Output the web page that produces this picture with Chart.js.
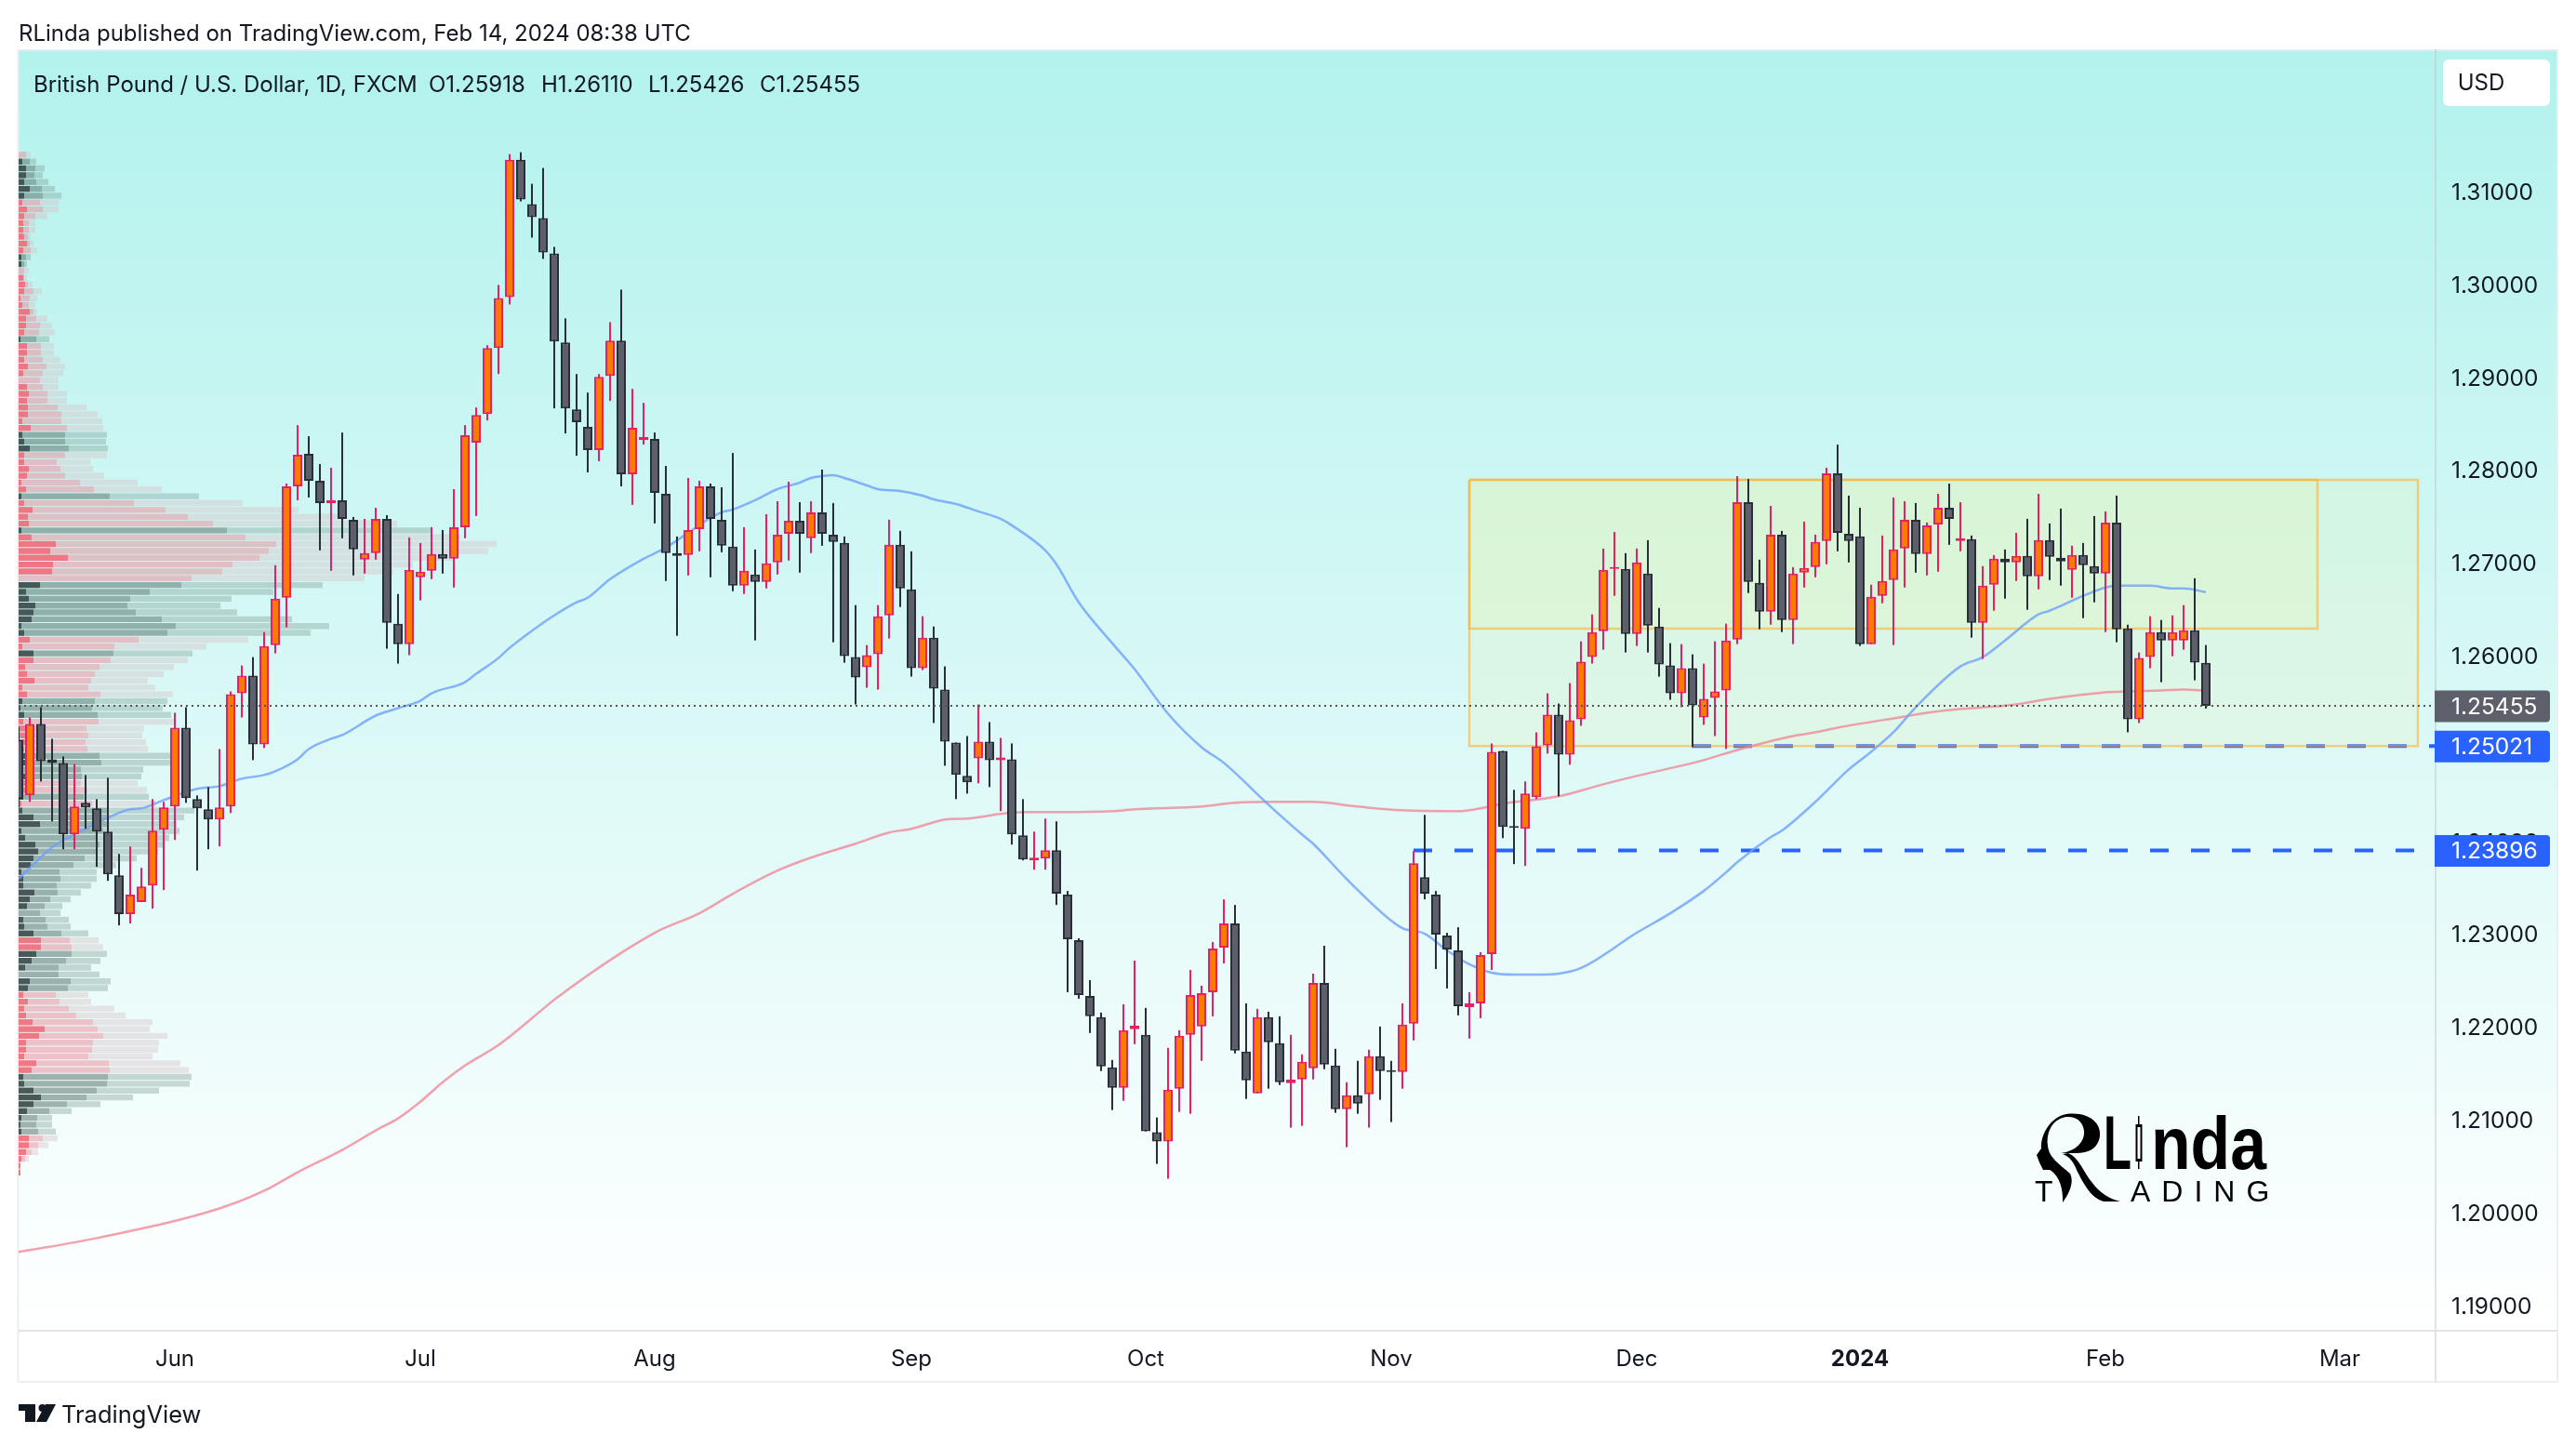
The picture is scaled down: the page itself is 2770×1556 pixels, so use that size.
<!DOCTYPE html>
<html><head><meta charset="utf-8">
<style>html,body{margin:0;padding:0;background:#fff}canvas{display:block}</style>
<script src="https://cdn.jsdelivr.net/npm/chart.js@4/dist/chart.umd.min.js"></script>
</head><body><div style="width:2770px;height:1556px"><canvas id="c" width="2770" height="1556"></canvas></div>
<script>
const open=[1.2509,1.2449,1.2526,1.2488,1.2484,1.2407,1.2441,1.2435,1.2410,1.2363,1.2321,1.2334,1.2352,1.2412,1.2437,1.2522,1.2445,1.2434,1.2423,1.2437,
1.2559,1.2578,1.2504,1.2611,1.2662,1.2782,1.2817,1.2788,1.2764,1.2767,1.2746,1.2703,1.2710,1.2747,1.2634,1.2612,1.2684,1.2691,1.2709,1.2704,
1.2738,1.2829,1.2860,1.2931,1.2986,1.3134,1.3086,1.3071,1.3033,1.2937,1.2865,1.2846,1.2821,1.2901,1.2939,1.2795,1.2832,1.2833,1.2774,1.2710,
1.2708,1.2736,1.2782,1.2746,1.2717,1.2675,1.2687,1.2679,1.2700,1.2731,1.2745,1.2726,1.2754,1.2730,1.2721,1.2598,1.2587,1.2601,1.2643,1.2719,
1.2671,1.2586,1.2619,1.2563,1.2506,1.2470,1.2489,1.2507,1.2487,1.2488,1.2406,1.2379,1.2381,1.2390,1.2342,1.2293,1.2233,1.2210,1.2156,1.2134,
1.2197,1.2191,1.2086,1.2076,1.2133,1.2191,1.2200,1.2237,1.2285,1.2311,1.2173,1.2128,1.2210,1.2182,1.2139,1.2143,1.2155,1.2247,1.2158,1.2111,
1.2126,1.2127,1.2168,1.2153,1.2151,1.2203,1.2361,1.2342,1.2298,1.2282,1.2221,1.2225,1.2278,1.2497,1.2416,1.2413,1.2447,1.2503,1.2536,1.2493,
1.2531,1.2598,1.2626,1.2693,1.2693,1.2623,1.2688,1.2631,1.2589,1.2559,1.2586,1.2533,1.2554,1.2562,1.2617,1.2765,1.2678,1.2647,1.2730,1.2638,
1.2689,1.2695,1.2723,1.2796,1.2731,1.2728,1.2612,1.2664,1.2681,1.2715,1.2746,1.2709,1.2741,1.2759,1.2723,1.2725,1.2635,1.2676,1.2704,1.2700,
1.2707,1.2685,1.2724,1.2705,1.2692,1.2708,1.2696,1.2688,1.2743,1.2629,1.2531,1.2598,1.2625,1.2616,1.2616,1.2627,1.25918];
const close=[1.2445,1.2526,1.2486,1.2484,1.2407,1.2437,1.2436,1.2410,1.2364,1.2321,1.2342,1.2351,1.2411,1.2436,1.2522,1.2446,1.2435,1.2423,1.2436,1.2558,
1.2578,1.2504,1.2610,1.2661,1.2782,1.2816,1.2788,1.2764,1.2767,1.2747,1.2714,1.2710,1.2747,1.2635,1.2612,1.2692,1.2690,1.2709,1.2704,1.2738,
1.2837,1.2859,1.2931,1.2985,1.3134,1.3091,1.3072,1.3034,1.2938,1.2866,1.2851,1.2821,1.2900,1.2939,1.2795,1.2845,1.2835,1.2775,1.2710,1.2707,
1.2735,1.2782,1.2747,1.2718,1.2675,1.2691,1.2679,1.2699,1.2730,1.2745,1.2731,1.2754,1.2731,1.2722,1.2599,1.2576,1.2600,1.2642,1.2719,1.2672,
1.2586,1.2619,1.2564,1.2507,1.2471,1.2463,1.2507,1.2487,1.2490,1.2407,1.2380,1.2382,1.2390,1.2343,1.2294,1.2234,1.2211,1.2157,1.2134,1.2196,
1.2201,1.2087,1.2076,1.2132,1.2190,1.2234,1.2236,1.2284,1.2311,1.2174,1.2142,1.2210,1.2183,1.2140,1.2143,1.2162,1.2247,1.2159,1.2111,1.2126,
1.2117,1.2168,1.2152,1.2151,1.2202,1.2376,1.2343,1.2299,1.2283,1.2222,1.2225,1.2277,1.2496,1.2415,1.2414,1.2451,1.2502,1.2536,1.2493,1.2530,
1.2593,1.2625,1.2692,1.2695,1.2623,1.2700,1.2632,1.2590,1.2559,1.2586,1.2546,1.2553,1.2561,1.2616,1.2765,1.2679,1.2647,1.2730,1.2638,1.2688,
1.2694,1.2722,1.2796,1.2732,1.2723,1.2612,1.2663,1.2680,1.2714,1.2746,1.2709,1.2740,1.2759,1.2747,1.2726,1.2635,1.2675,1.2704,1.2700,1.2707,
1.2685,1.2724,1.2706,1.2701,1.2708,1.2697,1.2688,1.2743,1.2628,1.2531,1.2597,1.2625,1.2616,1.2625,1.2627,1.2592,1.25455];
const high=[1.2523,1.2533,1.2544,1.2510,1.2491,1.2483,1.2471,1.2445,1.2468,1.2386,1.2394,1.2371,1.2445,1.2442,1.2538,1.2544,1.2449,1.2458,1.2499,1.2561,
1.2589,1.2598,1.2625,1.2697,1.2785,1.2848,1.2836,1.2806,1.2802,1.2840,1.2749,1.2747,1.2759,1.2751,1.2666,1.2727,1.2721,1.2738,1.2735,1.2779,
1.2848,1.2867,1.2934,1.2999,1.3140,1.3142,1.3108,1.3125,1.3040,1.2963,1.2903,1.2883,1.2903,1.2959,1.2994,1.2887,1.2872,1.2840,1.2804,1.2728,
1.2791,1.2788,1.2785,1.2781,1.2818,1.2738,1.2714,1.2752,1.2766,1.2787,1.2765,1.2766,1.2800,1.2764,1.2728,1.2654,1.2611,1.2654,1.2746,1.2734,
1.2712,1.2642,1.2631,1.2588,1.2506,1.2513,1.2547,1.2528,1.2511,1.2505,1.2445,1.2410,1.2424,1.2421,1.2346,1.2295,1.2250,1.2215,1.2164,1.2224,
1.2271,1.2220,1.2102,1.2177,1.2196,1.2261,1.2244,1.2291,1.2337,1.2331,1.2225,1.2219,1.2216,1.2211,1.2191,1.2170,1.2257,1.2287,1.2176,1.2140,
1.2163,1.2175,1.2200,1.2163,1.2225,1.2389,1.2428,1.2346,1.2301,1.2307,1.2237,1.2280,1.2505,1.2497,1.2455,1.2464,1.2517,1.2559,1.2548,1.2570,
1.2615,1.2644,1.2715,1.2733,1.2710,1.2715,1.2724,1.2651,1.2613,1.2612,1.2601,1.2591,1.2615,1.2634,1.2793,1.2790,1.2703,1.2761,1.2734,1.2695,
1.2744,1.2730,1.2802,1.2827,1.2772,1.2759,1.2676,1.2729,1.2770,1.2766,1.2764,1.2743,1.2774,1.2785,1.2765,1.2729,1.2696,1.2708,1.2714,1.2732,
1.2747,1.2774,1.2742,1.2758,1.2718,1.2721,1.2750,1.2755,1.2772,1.2633,1.2603,1.2642,1.2638,1.2643,1.2654,1.2683,1.26110];
const low=[1.2436,1.2442,1.2464,1.2421,1.2391,1.2391,1.2413,1.2372,1.2357,1.2309,1.2311,1.2334,1.2327,1.2347,1.2401,1.2441,1.2368,1.2391,1.2394,1.2430,
1.2533,1.2487,1.2500,1.2602,1.2630,1.2767,1.2770,1.2713,1.2691,1.2726,1.2686,1.2688,1.2703,1.2607,1.2591,1.2600,1.2659,1.2682,1.2688,1.2673,
1.2726,1.2750,1.2853,1.2903,1.2978,1.3089,1.3050,1.3027,1.2866,1.2839,1.2815,1.2797,1.2809,1.2874,1.2782,1.2762,1.2827,1.2742,1.2680,1.2621,
1.2686,1.2712,1.2684,1.2711,1.2669,1.2666,1.2616,1.2672,1.2687,1.2702,1.2689,1.2710,1.2718,1.2614,1.2592,1.2547,1.2565,1.2563,1.2618,1.2652,
1.2577,1.2584,1.2527,1.2481,1.2445,1.2451,1.2462,1.2458,1.2432,1.2396,1.2379,1.2369,1.2369,1.2331,1.2237,1.2230,1.2193,1.2152,1.2110,1.2120,
1.2181,1.2087,1.2052,1.2036,1.2108,1.2106,1.2163,1.2211,1.2268,1.2171,1.2122,1.2128,1.2133,1.2137,1.2091,1.2093,1.2143,1.2154,1.2107,1.2070,
1.2106,1.2091,1.2121,1.2097,1.2133,1.2185,1.2337,1.2262,1.2241,1.2212,1.2187,1.2209,1.2261,1.2403,1.2375,1.2373,1.2445,1.2494,1.2448,1.2482,
1.2524,1.2591,1.2606,1.2664,1.2603,1.2610,1.2603,1.2577,1.2552,1.2544,1.2501,1.2525,1.2513,1.2499,1.2612,1.2667,1.2628,1.2633,1.2625,1.2612,
1.2673,1.2684,1.2698,1.2712,1.2700,1.2610,1.2612,1.2656,1.2611,1.2673,1.2689,1.2686,1.2690,1.2719,1.2712,1.2619,1.2596,1.2648,1.2661,1.2680,
1.2649,1.2671,1.2681,1.2675,1.2662,1.2640,1.2657,1.2625,1.2614,1.2517,1.2527,1.2586,1.2571,1.2599,1.2606,1.2573,1.25426];

const tickIndex=[14,36,57,80,101,123,145,165,187,208];
const tickLabels=['Jun','Jul','Aug','Sep','Oct','Nov','Dec','2024','Feb','Mar'];
const priceTicks=[1.19,1.20,1.21,1.22,1.23,1.24,1.25,1.26,1.27,1.28,1.29,1.30,1.31];

const blueIdx=[0,3,5,6,8,10,11,13,16,18,20,22,23,25,26,28,29,32,34,36,37,40,41,43,44,47,48,50,51,53,56,58,60,62,63,64,66,68,70,71,72,73,74,76,77,79,81,82,84,86,88,89,92,93,95,98,100,103,106,108,112,115,116,119,123,124,126,128,130,132,134,136,138,140,145,148,151,153,154,157,158,161,164,166,168,170,174,176,178,181,182,185,187,188,191,193,194,196];
const blueVal=[1.2359,1.2393,1.2407,1.2413,1.2425,1.2434,1.2435,1.2444,1.2456,1.2459,1.2467,1.2471,1.2475,1.2488,1.2499,1.2510,1.2514,1.2535,1.2543,1.2551,1.2559,1.2571,1.2580,1.2597,1.2608,1.2635,1.2643,1.2657,1.2662,1.2682,1.2704,1.2716,1.2732,1.2748,1.2754,1.2757,1.2767,1.2779,1.2786,1.2791,1.2793,1.2794,1.2791,1.2783,1.2779,1.2777,1.2772,1.2768,1.2763,1.2755,1.2747,1.2740,1.2713,1.2698,1.2657,1.2613,1.2585,1.2537,1.2501,1.2484,1.2439,1.2407,1.2397,1.2359,1.2314,1.2306,1.2300,1.2282,1.2267,1.2258,1.2256,1.2256,1.2257,1.2263,1.2301,1.2322,1.2346,1.2366,1.2377,1.2404,1.2411,1.2442,1.2477,1.2496,1.2517,1.2544,1.2588,1.2598,1.2616,1.2644,1.2648,1.2664,1.2673,1.2675,1.2675,1.2672,1.2672,1.2668];
const redIdx=[0,7,18,22,25,29,32,34,36,38,40,43,47,48,57,61,64,68,71,75,78,80,82,83,85,88,90,93,98,100,106,109,112,116,120,124,129,131,133,138,142,145,149,151,154,159,161,163,169,171,173,179,182,187,189,192,194,196];
const redVal=[1.1957,1.1972,1.2004,1.2023,1.2043,1.2067,1.2088,1.2101,1.2119,1.2140,1.2158,1.2180,1.2219,1.2229,1.2301,1.2322,1.2343,1.2368,1.2382,1.2397,1.2409,1.2413,1.2420,1.2423,1.2424,1.2429,1.2431,1.2431,1.2432,1.2434,1.2437,1.2441,1.2442,1.2442,1.2437,1.2433,1.2432,1.2435,1.2440,1.2448,1.2461,1.2470,1.2481,1.2487,1.2498,1.2513,1.2517,1.2522,1.2534,1.2538,1.2541,1.2547,1.2553,1.2560,1.2561,1.2562,1.2563,1.2562];

const profilePrice=[1.31393,1.31319,1.31246,1.31172,1.31099,1.31025,1.30951,1.30878,1.30804,1.30731,1.30657,1.30583,1.30510,1.30436,1.30363,1.30289,1.30215,1.30142,1.30068,1.29995,1.29921,1.29847,1.29774,1.29700,1.29627,1.29553,1.29479,1.29406,1.29332,1.29259,1.29185,1.29111,1.29038,1.28964,1.28891,1.28817,1.28743,1.28670,1.28596,1.28523,1.28449,1.28375,1.28302,1.28228,1.28155,1.28081,1.28007,1.27934,1.27860,1.27787,
1.27713,1.27639,1.27566,1.27492,1.27419,1.27345,1.27271,1.27198,1.27124,1.27051,1.26977,1.26903,1.26830,1.26756,1.26683,1.26609,1.26535,1.26462,1.26388,1.26315,1.26241,1.26167,1.26094,1.26020,1.25947,1.25873,1.25799,1.25726,1.25652,1.25579,1.25505,1.25431,1.25358,1.25284,1.25211,1.25137,1.25063,1.24990,1.24916,1.24843,1.24769,1.24695,1.24622,1.24548,1.24475,1.24401,1.24327,1.24254,1.24180,1.24107,
1.24033,1.23959,1.23886,1.23812,1.23739,1.23665,1.23591,1.23518,1.23444,1.23371,1.23297,1.23223,1.23150,1.23076,1.23003,1.22929,1.22855,1.22782,1.22708,1.22635,1.22561,1.22487,1.22414,1.22340,1.22267,1.22193,1.22119,1.22046,1.21972,1.21899,1.21825,1.21751,1.21678,1.21604,1.21531,1.21457,1.21383,1.21310,1.21236,1.21163,1.21089,1.21015,1.20942,1.20868,1.20795,1.20721,1.20647,1.20574,1.20500,1.20427];
const profileKind='rddddddrrrrrrrrddrrrrrrrrrrdrrrrrrrrrrrrrdddrrrrrrdrrrrdrrrrrrrddddddddrrdrrrrrrdddrrrrrddddrrdrdddddddddddddddddddrrddddddrrrrrrrrrrrrdddddddddrrrrrrrr'.split('');
const profileInner=[0,4,8,8,6,12,6,4,9,6,5,5,6,9,5,3,3,0,5,7,6,2,4,12,8,8,6,2,9,9,6,10,5,0,9,11,9,10,10,4,13,4,6,12,6,6,11,9,3,8,3,6,15,10,11,3,14,40,34,53,37,36,0,23,8,11,18,16,14,3,6,12,4,16,16,7,9,17,4,9,4,2,6,5,7,9,8,6,7,7,3,7,7,7,5,3,4,16,23,3,7,18,21,16,13,3,5,5,17,12,9,0,5,6,16,24,24,19,14,7,0,12,10,5,10,6,8,15,28,22,8,8,6,19,14,5,6,16,24,16,9,3,2,3,11,11,8,3,2,2];
const profileMid=[8,12,18,17,19,25,26,23,26,18,11,11,10,12,13,8,6,6,6,10,16,12,11,16,19,23,22,19,24,24,26,30,26,23,26,31,31,42,46,46,52,50,50,54,50,41,45,50,66,81,98,124,158,182,209,224,244,277,269,259,230,219,186,175,141,120,117,126,154,169,160,129,103,102,99,87,82,78,75,88,82,79,85,86,73,75,72,74,87,89,67,68,67,74,70,79,95,97,95,91,85,87,83,71,59,44,45,41,42,34,28,23,29,31,46,55,57,57,51,43,43,56,53,40,44,54,62,80,85,91,80,79,75,97,98,96,95,84,73,52,33,20,19,21,26,21,14,7,2,2];
const profileTotal=[13,19,28,26,32,39,46,43,43,31,18,18,13,16,20,13,9,11,9,15,25,20,18,20,31,36,39,33,38,38,45,50,48,43,43,52,52,73,85,90,91,95,94,96,95,77,80,92,128,154,194,241,301,350,407,444,475,514,505,466,424,403,372,327,274,229,217,235,294,334,314,247,202,187,182,167,156,139,147,166,160,155,164,168,135,133,137,139,165,168,134,132,128,138,140,148,189,178,170,173,162,156,150,127,105,84,84,78,67,56,47,45,54,56,75,86,91,95,88,78,87,99,96,75,78,103,115,144,141,160,151,150,144,174,183,186,184,151,123,88,57,36,36,40,42,32,21,11,2,2];

const rectIdx=[130,215,215,130,130];
const rectValA=[1.2789,1.2789,1.25021,1.25021,1.2789];
const rectIdxB=[130,206,206,130,130];
const rectValB=[1.2789,1.2789,1.26287,1.26287,1.2789];
const supportLevel=1.25021, lowerLevel=1.23896, lastPrice=1.25455;
const xMax=216.583;

const isUp=i=>close[i]>=open[i];
const INK='#131722', UI='Inter, Roboto, sans-serif';
const kindCol=(k,a,b)=>k==='r'?a:b;
const profileSet=(lo,hi,red,dark,ord)=>({type:'bar',indexAxis:'y',xAxisID:'x2',yAxisID:'y',order:ord,grouped:false,barThickness:6.4,inflateAmount:0,borderWidth:0,
  data:profilePrice.map((p,i)=>({y:p,x:[lo?lo[i]:0,hi[i]]})),
  backgroundColor:profileKind.map(k=>kindCol(k,red,dark))});
const flat=(a,b,v,col,w,dash,ord)=>({type:'line',order:ord,data:[{x:a,y:v},{x:b,y:v}],borderColor:col,borderWidth:w,borderDash:dash,pointRadius:0,fill:false,borderCapStyle:'butt'});
const shape=(xs,ys,ord)=>({type:'line',order:ord,data:xs.map((x,i)=>({x,y:ys[i]})),borderColor:'rgba(255,168,30,.52)',borderWidth:2.5,backgroundColor:'rgba(255,238,120,.12)',fill:'shape',pointRadius:0,tension:0});

const paint={id:'paint',
 beforeDraw(ch){const c=ch.ctx,a=ch.chartArea;
  const g=c.createLinearGradient(0,a.top,0,a.bottom);
  g.addColorStop(0,'#b2f2ed');g.addColorStop(1,'#ffffff');
  c.fillStyle='#fff';c.fillRect(0,0,2770,1556);
  c.fillStyle=g;c.fillRect(a.left,a.top,2750-a.left,a.bottom-a.top+1);
 },
 beforeDatasetsDraw(ch){const c=ch.ctx,a=ch.chartArea;
  c.save();
  const line=(x1,y1,x2,y2,col,w)=>{c.strokeStyle=col;c.lineWidth=w;c.beginPath();c.moveTo(x1,y1);c.lineTo(x2,y2);c.stroke();};
  line(a.left-.5,54,2750,54,'#e6ebef',2);
  line(a.left-.5,53,a.left-.5,1486,'#eceef2',2);
  line(2750,53,2750,1486,'#eceef2',2);
  line(a.left,1431,2750,1431,'#e0e3e7',2);
  line(a.left,1486,2750,1486,'#eceef2',2);
  const g=c.createLinearGradient(0,a.top,0,a.bottom);g.addColorStop(0,'#b8dcd8');g.addColorStop(1,'#e0e3e7');
  line(2619,53,2619,1486,g,2);
  c.restore();
 },
 afterDraw(ch){const c=ch.ctx,y=ch.scales.y;c.save();
  c.textBaseline='middle';c.textAlign='left';
  const tag=(v,col,fg)=>{const py=y.getPixelForValue(v)+.5;c.fillStyle=col;c.beginPath();c.roundRect(2618,py-17,124,34,[0,4,4,0]);c.fill();
    c.fillStyle=fg;c.font='24.5px '+UI;c.fillText(v.toFixed(5),2636,py+1);};
  tag(lastPrice,'#5d606b','#ffffff');tag(supportLevel,'#2962ff','#ffffff');tag(lowerLevel,'#2962ff','#ffffff');
  c.fillStyle=INK;
  c.font='24px '+UI;c.fillText('RLinda published on TradingView.com, Feb 14, 2024 08:38 UTC',20,36.5);
  c.fillText('British Pound / U.S. Dollar, 1D, FXCM',36,92);
  c.fillText('O1.25918',461,92);c.fillText('H1.26110',582,92);c.fillText('L1.25426',697,92);c.fillText('C1.25455',817,92);
  c.fillStyle='#fff';c.beginPath();c.roundRect(2627,64,115,50,6);c.fill();
  c.fillStyle=INK;c.font='24px '+UI;c.textAlign='center';c.fillText('USD',2668,89.5);
  c.textAlign='left';
  c.fillStyle='#131722';c.fillRect(20,1510,18,7);c.fillRect(27,1510,11,19);
  c.beginPath();c.arc(45.5,1514,4,0,7);c.fill();
  c.beginPath();c.moveTo(49,1510);c.lineTo(60,1510);c.lineTo(50,1529);c.lineTo(39,1529);c.closePath();c.fill();
  c.font='25.5px '+UI;c.fillText('TradingView',66,1522);
  /* logo: head-and-R emblem with its lettering */
  c.fillStyle='#000';
  c.beginPath();c.moveTo(2222,1198);
  c.bezierCurveTo(2245,1195,2260,1207,2258,1222);c.bezierCurveTo(2256,1235,2246,1240,2232,1240);c.lineTo(2216,1240);
  c.bezierCurveTo(2232,1238,2242,1228,2241,1216);c.bezierCurveTo(2240,1206,2232,1200,2222,1201);
  c.bezierCurveTo(2208,1203,2200,1216,2202,1232);c.bezierCurveTo(2203,1245,2215,1252,2226,1262);
  c.bezierCurveTo(2231,1272,2224,1285,2218,1293);c.bezierCurveTo(2219,1275,2212,1262,2204,1258);
  c.lineTo(2197,1258);c.lineTo(2193,1250);c.lineTo(2190,1242);c.lineTo(2195,1235);
  c.bezierCurveTo(2194,1220,2205,1201,2222,1198);c.closePath();c.fill();
  c.beginPath();c.moveTo(2224,1240);c.bezierCurveTo(2236,1245,2240,1260,2250,1272);c.bezierCurveTo(2258,1283,2268,1289,2280,1292);
  c.lineTo(2262,1292);c.bezierCurveTo(2248,1288,2240,1272,2233,1258);c.bezierCurveTo(2230,1250,2226,1244,2218,1241);c.closePath();c.fill();
  c.textBaseline='alphabetic';
  c.font='bold 82px "Liberation Sans"';c.fillText('L',2262,1257,30);
  c.fillRect(2299,1200,1.5,57);c.fillRect(2296.5,1209,7,40);c.fillStyle='#fff';c.fillRect(2298.5,1212,3,34);c.fillStyle='#000';
  c.font='bold 80px "Liberation Sans"';c.fillText('nda',2313,1257,124);
  c.font='32px "Liberation Sans"';c.fillText('T',2188,1292);
  c.letterSpacing='12px';c.fillText('ADING',2291,1292);c.letterSpacing='0px';
  c.restore();
 }};

new Chart(document.getElementById('c'),{
 type:'bar',
 data:{datasets:[
  profileSet(profileMid,profileTotal,'rgba(218,192,198,.42)','rgba(135,164,157,.42)',20),
  profileSet(profileInner,profileMid,'rgba(232,152,164,.58)','rgba(98,124,117,.58)',19),
  profileSet(null,profileInner,'rgba(240,105,120,.9)','rgba(50,65,65,.88)',18),
  flat(125,xMax,lowerLevel,'#2962ff',4,[20,24],16),
  flat(150,xMax,supportLevel,'#2962ff',4,[20,24],15),
  shape(rectIdx,rectValA,14),
  shape(rectIdxB,rectValB,13),
  {type:'line',order:12,data:redIdx.map((x,i)=>({x,y:redVal[i]})),borderColor:'rgba(239,130,145,.75)',borderWidth:2.5,pointRadius:0,cubicInterpolationMode:'monotone'},
  {type:'line',order:11,data:blueIdx.map((x,i)=>({x,y:blueVal[i]})),borderColor:'rgba(110,160,250,.8)',borderWidth:2.5,pointRadius:0,cubicInterpolationMode:'monotone'},
  {type:'bar',order:3,grouped:false,barThickness:2,inflateAmount:0,borderWidth:0,
   data:high.map((h,i)=>({x:i,y:[low[i],h]})),backgroundColor:high.map((h,i)=>isUp(i)?'#e91e63':'#2a2e39')},
  {type:'bar',order:2,grouped:false,barThickness:10,inflateAmount:0,borderWidth:2,borderSkipped:false,
   data:open.map((o,i)=>({x:i,y:[o,close[i]]})),
   backgroundColor:open.map((o,i)=>isUp(i)?'#f77c00':'#5d606b'),
   borderColor:open.map((o,i)=>isUp(i)?'#e91e63':'#2a2e39')},
  flat(0,xMax,lastPrice,'#555',2,[2,4],1)
 ]},
 options:{responsive:false,devicePixelRatio:1,animation:false,
  layout:{padding:{left:20,right:20,top:53,bottom:71}},
  plugins:{legend:{display:false},tooltip:{enabled:false},title:{display:false}},
  scales:{
   x:{type:'linear',offset:false,min:0,max:xMax,grid:{display:false,drawTicks:false},border:{display:false},
    afterBuildTicks(s){s.ticks=tickIndex.map(v=>({value:v}));},
    afterFit(s){s.height=55;},
    ticks:{autoSkip:false,maxRotation:0,padding:17,color:INK,
     callback:v=>tickLabels[tickIndex.indexOf(v)],
     font:ctx=>({family:'Inter, Roboto, sans-serif',size:24,weight:ctx.tick&&ctx.tick.value===165?'bold':'normal'})}},
   x2:{type:'linear',axis:'x',display:false,offset:false,min:0,max:2599},
   y:{type:'linear',position:'right',offset:false,min:1.18732,max:1.32529,grid:{display:false,drawTicks:false},border:{display:false},
    afterBuildTicks(s){s.ticks=priceTicks.map(v=>({value:v}));},
    afterFit(s){s.width=131;},
    ticks:{padding:17,crossAlign:'near',labelOffset:2,color:INK,callback:v=>v.toFixed(5),font:{family:'Inter, Roboto, sans-serif',size:24.5}}}
  }
 },
 plugins:[paint]
});
</script>
</body></html>
